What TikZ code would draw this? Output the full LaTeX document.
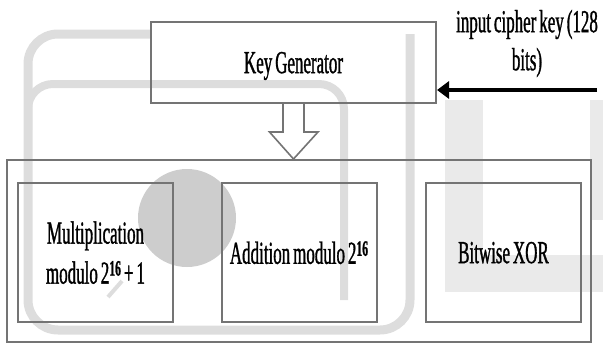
\documentclass[tikz,border=0pt]{standalone}
\usepackage{fontspec}
\setmainfont{Liberation Serif}[FakeStretch=0.53,WordSpace=0.7,FakeBold=1]
\usetikzlibrary{calc,arrows.meta}
\definecolor{boxgray}{HTML}{747474}
\definecolor{wmA}{HTML}{DDDDDD}
\definecolor{wmB}{HTML}{EAEAEA}
\definecolor{wmC}{HTML}{CDCDCD}
\newcommand{\pwr}[1]{\raisebox{8pt}{\fontsize{22}{22}\selectfont\bfseries #1}}
\begin{document}
\begin{tikzpicture}[x=1pt,y=-1pt,
  txt/.style={font=\fontsize{32}{40}\selectfont},
  opbox/.style={txt,draw=boxgray,line width=2pt,minimum width=155pt,minimum height=139pt,
    inner sep=0pt,text depth=0pt,align=center},
  kgbox/.style={txt,draw=boxgray,line width=2pt,minimum width=285pt,minimum height=81pt,
    inner sep=0pt,text depth=0pt},
  outerbox/.style={draw=boxgray,line width=2pt,minimum width=584pt,minimum height=182pt,inner sep=0pt},
  wmline/.style={wmA},
  hollow/.style={draw=boxgray,line width=1.6pt,fill=white,line join=miter},
  keyarrow/.style={black,line width=3.5pt,-{Triangle[length=12pt,width=17pt]}}]
\useasboundingbox (0,0) rectangle (603,343);
% faint background watermark
\draw[wmline,line width=9pt,rounded corners=30pt] (150,34) -| (28,330) -| (410,34);
\draw[wmline,line width=8pt,rounded corners=25pt] (28,130) |- (344,84) -- (344,300);
\fill[wmC] (187,218) circle (49);
\fill[wmB] (445,100) rectangle (483,292);
\fill[wmB] (445,255) rectangle (603,292);
\fill[wmB] (590,100) rectangle (603,220);
\draw[wmline,line width=4pt] (108,297) -- (122,281);
% diagram
\node[kgbox] (kg) at (293.5,62.5) {Key Generator};
\node[outerbox] (outer) at (299,251) {};
\node[opbox] (mul) at (95.5,252.5) {Multiplication\\modulo 2\pwr{16} + 1};
\node[opbox] (add) at (299,252.5) {Addition modulo 2\pwr{16}};
\node[opbox] (xor) at (503.5,252.5) {Bitwise XOR};
\node[txt,font=\fontsize{32}{38}\selectfont,align=center,inner sep=0pt] (inp) at (527,43.5) {input cipher key (128\\bits)};
\coordinate (src) at (597,90);
\draw[keyarrow] (src) -- (src -| kg.east);
\draw[hollow] ($(kg.south)+(-10.5,0)$) -- ++(0,28) -- ++(-13.5,0)
  -- (kg.south |- outer.north) -- ($(kg.south)+(24.5,28)$) -- ++(-14,0)
  -- ($(kg.south)+(10.5,0)$);
\end{tikzpicture}
\end{document}
